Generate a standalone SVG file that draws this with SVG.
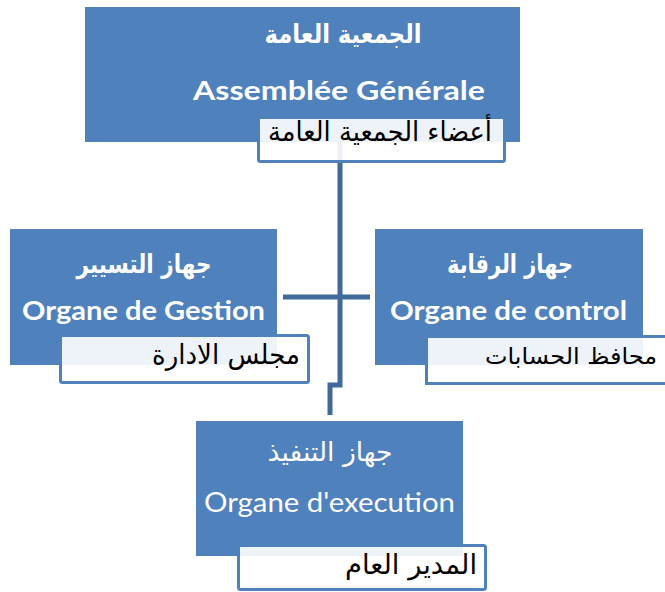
<svg xmlns="http://www.w3.org/2000/svg" width="665" height="592" viewBox="0 0 665 592">
  <style>
    .box { fill: #4f81bd; }
    .tag { fill: #ffffff; fill-opacity: 0.9; stroke: #4f81bd; stroke-width: 3; }
    .tag-fill { fill: #ffffff; fill-opacity: 0.9; }
    .tag-edge { fill: none; stroke: #4f81bd; stroke-width: 3; }
    .link { fill: none; stroke: #41699a; stroke-width: 5; stroke-linejoin: miter; }
    .ar-title { font-family: "DejaVu Sans", "Noto Sans", sans-serif; font-weight: bold; font-size: 26px; fill: #ffffff; text-anchor: middle; }
    .ar-title-reg { font-family: "DejaVu Sans", "Noto Sans", sans-serif; font-size: 26px; fill: #ffffff; text-anchor: middle; }
    .fr-title { font-family: Lato, "Open Sans", sans-serif; font-weight: bold; font-size: 26px; fill: #ffffff; text-anchor: middle; }
    .fr-title-reg { font-family: Lato, "Open Sans", sans-serif; font-size: 26px; fill: #ffffff; text-anchor: middle; }
    .ar-tag { font-family: "DejaVu Sans", "Noto Sans", sans-serif; font-size: 27px; fill: #000000; text-anchor: end; }
  </style>

  <!-- node bodies -->
  <g id="assemblee-box"><rect class="box" x="85" y="7" width="435" height="135"/></g>
  <g id="gestion-box"><rect class="box" x="10" y="229" width="267" height="136"/></g>
  <g id="control-box"><rect class="box" x="375" y="229" width="268" height="136"/></g>
  <g id="execution-box"><rect class="box" x="196" y="421" width="267" height="135"/></g>

  <!-- connectors -->
  <g id="connectors">
    <path class="link" d="M340,142 V297"/>
    <path class="link" d="M283,297 H370"/>
    <path class="link" d="M340,297 V385 H330 V415"/>
  </g>

  <!-- Assemblée Générale -->
  <g id="assemblee">
    <text class="ar-title" x="343" y="43" textLength="157" lengthAdjust="spacingAndGlyphs">الجمعية العامة</text>
    <text class="fr-title" x="339" y="100" textLength="292" lengthAdjust="spacingAndGlyphs">Assemblée Générale</text>
    <rect class="tag" x="258.5" y="117.5" width="246" height="44" rx="2"/>
    <text class="ar-tag" x="492" y="141" textLength="224" lengthAdjust="spacingAndGlyphs">أعضاء الجمعية العامة</text>
  </g>

  <!-- Organe de Gestion -->
  <g id="gestion">
    <text class="ar-title" x="144" y="273" textLength="135" lengthAdjust="spacingAndGlyphs">جهاز التسيير</text>
    <text class="fr-title" x="143.5" y="320" textLength="243" lengthAdjust="spacingAndGlyphs">Organe de Gestion</text>
    <rect class="tag" x="60.5" y="335.5" width="248" height="47" rx="2"/>
    <text class="ar-tag" x="300" y="364" textLength="148" lengthAdjust="spacingAndGlyphs">مجلس الادارة</text>
  </g>

  <!-- Organe de control: its tag runs on to the right edge -->
  <g id="control">
    <text class="ar-title" x="510" y="273" textLength="126" lengthAdjust="spacingAndGlyphs">جهاز الرقابة</text>
    <text class="fr-title" x="508.5" y="320" textLength="237" lengthAdjust="spacingAndGlyphs">Organe de control</text>
    <rect class="tag-fill" x="426.5" y="336.5" width="238.5" height="47"/>
    <path class="tag-edge" d="M665,336.5 H426.5 V383.5 H665"/>
    <text class="ar-tag" x="571" y="364" style="text-anchor: middle; font-size: 23px" textLength="172" lengthAdjust="spacingAndGlyphs">محافظ الحسابات</text>
  </g>

  <!-- Organe d'execution -->
  <g id="execution">
    <text class="ar-title-reg" x="330" y="461" textLength="125" lengthAdjust="spacingAndGlyphs">جهاز  التنفيذ</text>
    <text class="fr-title-reg" x="329.5" y="512" textLength="251" lengthAdjust="spacingAndGlyphs">Organe d'execution</text>
    <rect class="tag" x="238.5" y="545.5" width="247" height="44" rx="2"/>
    <text class="ar-tag" x="477" y="574" textLength="132" lengthAdjust="spacingAndGlyphs">المدير العام</text>
  </g>
</svg>
